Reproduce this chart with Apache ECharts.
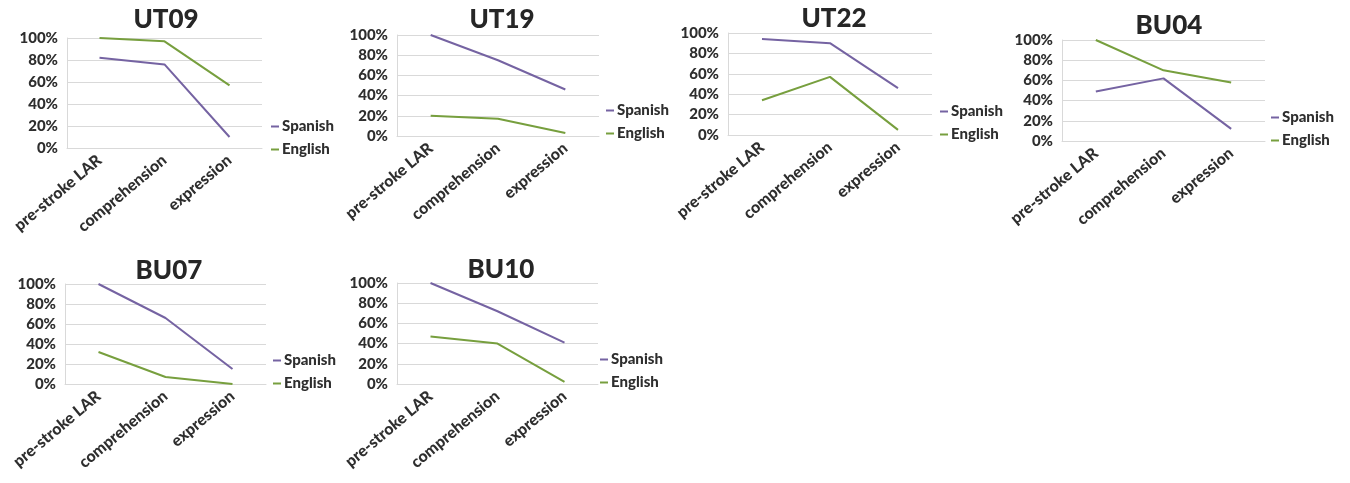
<!DOCTYPE html>
<html>
<head>
<meta charset="utf-8">
<script src="https://cdn.jsdelivr.net/npm/echarts@6/dist/echarts.min.js"></script>
<style>
html,body{margin:0;padding:0;background:#fff;}
#chart{width:1350px;height:483px;}
</style>
</head>
<body>
<div id="chart"></div>
<script>
// ---- data ----
const categories = ['pre-stroke LAR', 'comprehension', 'expression'];
const panelNames = ['UT09', 'UT19', 'UT22', 'BU04', 'BU07', 'BU10'];
const seriesNames = ['Spanish', 'English'];

const spanishUT09 = [82, 76, 10];
const englishUT09 = [100, 97, 57];
const spanishUT19 = [100, 75, 46];
const englishUT19 = [20, 17, 3];
const spanishUT22 = [94, 90, 46];
const englishUT22 = [34, 57, 5];
const spanishBU04 = [49, 62, 12];
const englishBU04 = [100, 70, 58];
const spanishBU07 = [100, 66, 15];
const englishBU07 = [32, 7, 0];
const spanishBU10 = [100, 72, 41];
const englishBU10 = [47, 40, 2];

const spanishData = [spanishUT09, spanishUT19, spanishUT22, spanishBU04, spanishBU07, spanishBU10];
const englishData = [englishUT09, englishUT19, englishUT22, englishBU04, englishBU07, englishBU10];

// ---- layout ----
const grids = [
  {left: 67,  top: 38,  width: 195, height: 110},
  {left: 397, top: 35,  width: 202, height: 101},
  {left: 728, top: 33,  width: 204, height: 102},
  {left: 1062, top: 40, width: 203, height: 101},
  {left: 65,  top: 284, width: 201, height: 100},
  {left: 397, top: 283, width: 201, height: 101}
];
const titlePos = [[166, 20], [502, 20], [834, 19], [1169, 26], [169, 271], [501, 270]];
const legendPos = [[271, 119], [606, 103], [940, 104], [1271, 110], [273, 353], [600, 352]];

const purple = '#7563a2';
const green = '#779f3e';
const font = 'Lato, "Open Sans", sans-serif';

const option = {
  animation: false,
  backgroundColor: '#ffffff',
  title: panelNames.map((n, i) => ({
    text: n,
    left: titlePos[i][0],
    top: titlePos[i][1],
    padding: 0,
    textAlign: 'center',
    textVerticalAlign: 'middle',
    textStyle: {fontFamily: font, fontWeight: 900, fontSize: 26, color: '#262626'}
  })),
  legend: panelNames.map((n, i) => ({
    data: seriesNames,
    orient: 'vertical',
    left: legendPos[i][0],
    top: legendPos[i][1],
    padding: 0,
    icon: 'rect',
    itemWidth: 8,
    itemHeight: 2,
    itemGap: 8,
    selectedMode: false,
    textStyle: {fontFamily: font, fontWeight: 900, fontSize: 15, color: '#2e2e2e', padding: [0, 0, 0, -2]}
  })),
  grid: grids.map(g => Object.assign({containLabel: false, outerBoundsMode: 'none'}, g)),
  xAxis: grids.map((g, i) => ({
    type: 'category',
    gridIndex: i,
    data: categories,
    boundaryGap: true,
    axisLine: {show: true, lineStyle: {color: '#d9d9d9', width: 1}},
    axisTick: {show: false},
    axisLabel: {
      rotate: 40,
      margin: 10,
      interval: 0,
      fontFamily: font,
      fontWeight: 900,
      fontSize: 16,
      color: '#2e2e2e'
    }
  })),
  yAxis: grids.map((g, i) => ({
    type: 'value',
    gridIndex: i,
    min: 0,
    max: 100,
    interval: 20,
    axisLine: {show: true, lineStyle: {color: '#d9d9d9', width: 1}},
    axisTick: {show: false},
    splitLine: {show: true, lineStyle: {color: '#d9d9d9', width: 1}},
    axisLabel: {
      formatter: '{value}%',
      margin: 9,
      fontFamily: font,
      fontWeight: 900,
      fontSize: 15,
      color: '#2e2e2e'
    }
  })),
  series: []
};

panelNames.forEach((n, i) => {
  option.series.push({
    name: 'Spanish', type: 'line', xAxisIndex: i, yAxisIndex: i,
    data: spanishData[i], symbol: 'none', color: purple,
    lineStyle: {color: purple, width: 2}
  });
  option.series.push({
    name: 'English', type: 'line', xAxisIndex: i, yAxisIndex: i,
    data: englishData[i], symbol: 'none', color: green,
    lineStyle: {color: green, width: 2}
  });
});

const chart = echarts.init(document.getElementById('chart'), null, {renderer: 'canvas'});
chart.setOption(option);
</script>
</body>
</html>
